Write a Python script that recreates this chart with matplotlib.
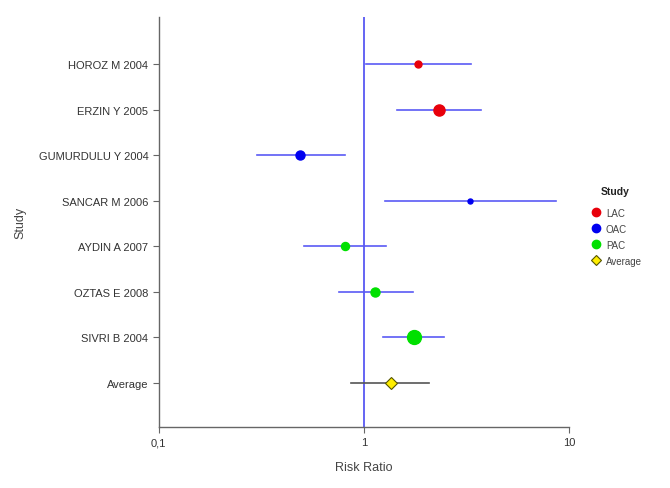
import matplotlib.pyplot as plt
from matplotlib.lines import Line2D
from matplotlib.ticker import FixedLocator, NullLocator

plt.rcParams['font.family'] = ['Liberation Sans', 'DejaVu Sans']

studies = ["HOROZ M 2004", "ERZIN Y 2005", "GUMURDULU Y 2004", "SANCAR M 2006",
           "AYDIN A 2007", "OZTAS E 2008", "SIVRI B 2004", "Average"]
groups = ["LAC", "LAC", "OAC", "OAC", "PAC", "PAC", "PAC", "Average"]
risk_ratio = [1.83, 2.32, 0.49, 3.29, 0.81, 1.14, 1.75, 1.35]
ci_low = [1.03, 1.45, 0.30, 1.27, 0.51, 0.76, 1.24, 0.87]
ci_high = [3.33, 3.72, 0.81, 8.64, 1.28, 1.73, 2.45, 2.08]
weights = [5.0, 8.0, 6.5, 3.6, 5.8, 6.5, 10.0, 7.0]

group_colors = {"LAC": "#e8000b", "OAC": "#0000f0", "PAC": "#00e000", "Average": "#ffee00"}

fig = plt.figure(figsize=(6.7, 4.89), dpi=100)
ax = fig.add_axes([0.237, 0.125, 0.612, 0.838])

n = len(studies)
ypos = list(range(n - 1, -1, -1))

ax.axvline(1, color="#3a3af0", lw=1.1, zorder=1)

for i in range(n):
    y = ypos[i]
    g = groups[i]
    line_col = "#555555" if g == "Average" else "#5a5af5"
    ax.plot([ci_low[i], ci_high[i]], [y, y], color=line_col, lw=1.2, zorder=2)
    if g == "Average":
        ax.plot(risk_ratio[i], y, marker="D", ms=weights[i] * 0.85, color=group_colors[g],
                mec="#555500", mew=0.8, zorder=3)
    else:
        ax.plot(risk_ratio[i], y, marker="o", ms=weights[i], color=group_colors[g],
                mec=group_colors[g], zorder=3)

ax.set_xscale("log")
ax.set_xlim(0.1, 10)
ax.set_ylim(-0.97, n - 1 + 1.04)
ax.xaxis.set_major_locator(FixedLocator([0.1, 1, 10]))
ax.xaxis.set_minor_locator(NullLocator())
ax.set_xticklabels(["0,1", "1", "10"])
ax.set_yticks(ypos)
ax.set_yticklabels(studies)

for side in ["top", "right"]:
    ax.spines[side].set_visible(False)
for side in ["left", "bottom"]:
    ax.spines[side].set_color("#666666")
    ax.spines[side].set_linewidth(1.0)
ax.tick_params(colors="#666666", labelcolor="#333333", labelsize=8, length=4)

ax.set_xlabel("Risk Ratio", fontsize=9, color="#444444", labelpad=10)
ax.set_ylabel("Study", fontsize=9, color="#444444")
ax.yaxis.set_label_coords(-0.323, 0.5)

# legend
fig.text(615 / 670, 1 - 192 / 489, "Study", fontsize=7.5, fontweight="bold",
         color="#222222", ha="center", va="center")
handles = [
    Line2D([], [], ls="", marker="o", ms=6, color=group_colors["LAC"], label="LAC"),
    Line2D([], [], ls="", marker="o", ms=6, color=group_colors["OAC"], label="OAC"),
    Line2D([], [], ls="", marker="o", ms=6, color=group_colors["PAC"], label="PAC"),
    Line2D([], [], ls="", marker="D", ms=5, color=group_colors["Average"],
           mec="#555500", mew=0.8, label="Average"),
]
leg = fig.legend(handles=handles, loc="upper left",
                 bbox_to_anchor=(0.868, 1 - 200 / 489), frameon=False, fontsize=7,
                 handletextpad=0.4, labelspacing=0.62, handlelength=1.2)
for t in leg.get_texts():
    t.set_color("#444444")

plt.savefig("out.png", dpi=100)
plt.close()
